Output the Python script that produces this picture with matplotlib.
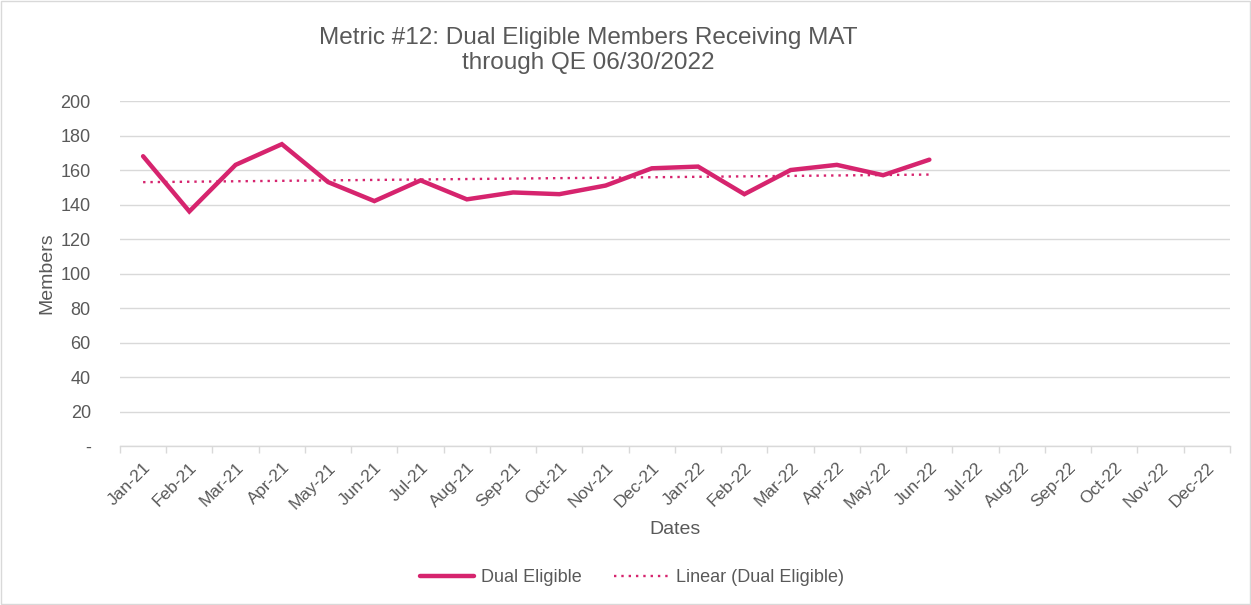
import matplotlib.pyplot as plt
import numpy as np

# --- DATA ---
months = ['Jan-21', 'Feb-21', 'Mar-21', 'Apr-21', 'May-21', 'Jun-21',
          'Jul-21', 'Aug-21', 'Sep-21', 'Oct-21', 'Nov-21', 'Dec-21',
          'Jan-22', 'Feb-22', 'Mar-22', 'Apr-22', 'May-22', 'Jun-22',
          'Jul-22', 'Aug-22', 'Sep-22', 'Oct-22', 'Nov-22', 'Dec-22']
dual_eligible = [168, 136, 163, 175, 153, 142, 154, 143, 147, 146, 151, 161,
                 162, 146, 160, 163, 157, 166]
y_ticks = [0, 20, 40, 60, 80, 100, 120, 140, 160, 180, 200]
y_tick_labels = ['-'] + [str(v) for v in y_ticks[1:]]

# --- STYLE ---
plt.rcParams['font.family'] = ['Liberation Sans', 'DejaVu Sans']
text_color = '#595959'
grid_color = '#D9D9D9'
line_color = '#D6246E'

fig = plt.figure(figsize=(12.51, 6.05), dpi=100)
ax = fig.add_axes([0.0959, 0.2628, 0.8873, 0.5702])

x = np.arange(len(dual_eligible))
ax.plot(x, dual_eligible, color=line_color, linewidth=3.2, label='Dual Eligible',
        solid_joinstyle='miter', solid_capstyle='round', zorder=3)

# linear trendline fitted on the observed months
slope, intercept = np.polyfit(x, dual_eligible, 1)
ax.plot(x, slope * x + intercept, color=line_color, linewidth=1.7,
        linestyle=(0, (1, 2.1)), label='Linear (Dual Eligible)', zorder=2)

ax.set_xlim(-0.5, len(months) - 0.5)
ax.set_ylim(0, 200)

ax.set_yticks(y_ticks)
ax.set_yticklabels(y_tick_labels)
ax.yaxis.grid(True, color=grid_color, linewidth=1)
ax.set_axisbelow(True)

# category labels centered, tick marks on category boundaries
ax.set_xticks(np.arange(len(months)))
ax.set_xticklabels(months, rotation=45, ha='right', rotation_mode='anchor')
ax.set_xticks(np.arange(len(months) + 1) - 0.5, minor=True)
ax.tick_params(axis='x', which='major', length=0, pad=10, labelsize=12.5)
ax.tick_params(axis='x', which='minor', length=5, color=grid_color, width=1)
ax.tick_params(axis='y', length=0, pad=21, labelsize=13)
ax.tick_params(labelcolor=text_color)

for side in ['top', 'right', 'left']:
    ax.spines[side].set_visible(False)
ax.spines['bottom'].set_color(grid_color)
ax.spines['bottom'].set_linewidth(1)

ax.set_xlabel('Dates', fontsize=14, color=text_color, labelpad=7)
ax.set_ylabel('Members', fontsize=14, color=text_color, labelpad=4)

fig.suptitle('Metric #12: Dual Eligible Members Receiving MAT\nthrough QE 06/30/2022',
             x=0.47, y=0.955, fontsize=17.5, color=text_color, linespacing=1.15)

ax.legend(loc='center', bbox_to_anchor=(0.505, 0.045), bbox_transform=fig.transFigure,
          ncol=2, frameon=False, fontsize=13, labelcolor=text_color,
          handlelength=3.0, columnspacing=1.8, handletextpad=0.4)

# light chart-area border
fig.patches.append(plt.Rectangle((0.001, 0.001), 0.998, 0.998, transform=fig.transFigure,
                                 fill=False, edgecolor=grid_color, linewidth=1))

fig.savefig('out.png', dpi=100)
